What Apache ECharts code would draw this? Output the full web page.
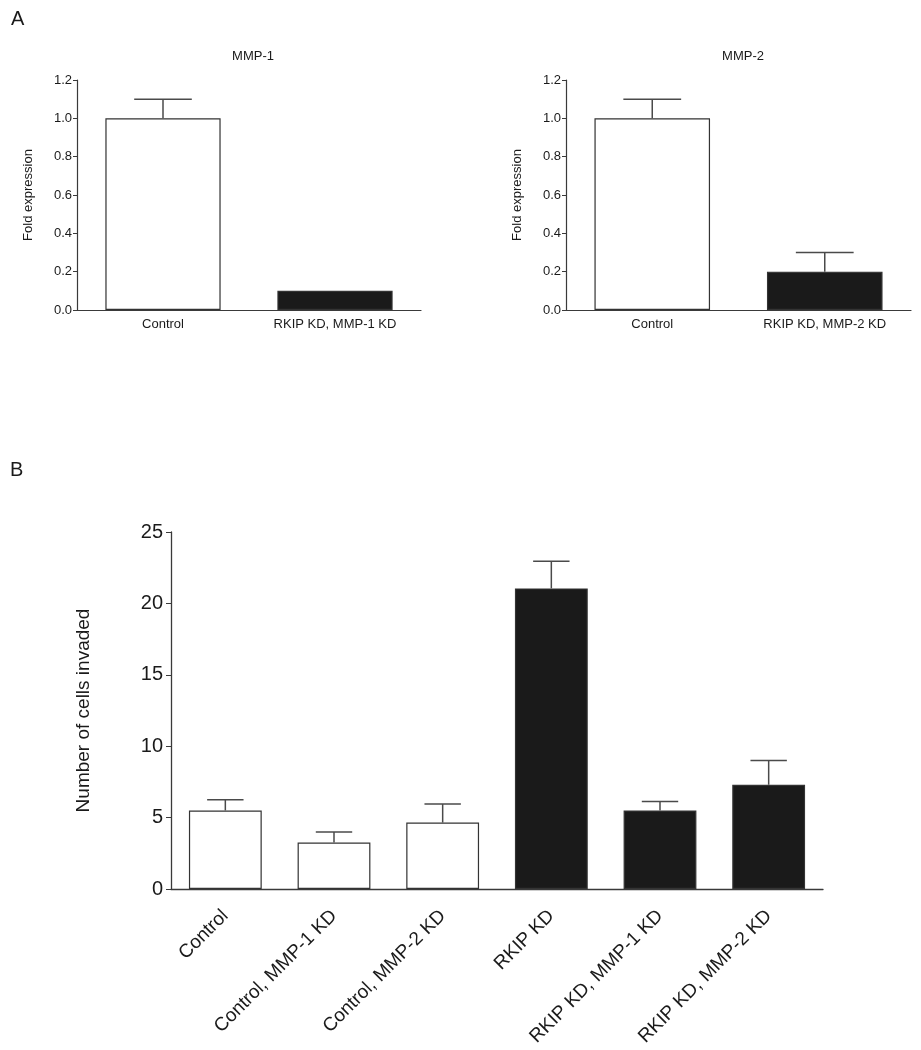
<!DOCTYPE html>
<html>
<head>
<meta charset="utf-8">
<script src="https://cdn.jsdelivr.net/npm/echarts@6/dist/echarts.min.js"></script>
<style>
html,body{margin:0;padding:0;background:#fff;}
#c{width:921px;height:1050px;}
</style>
</head>
<body>
<div id="c"></div>
<script>
// ---- Data ----
const mmp1Categories = ['Control', 'RKIP KD, MMP-1 KD'];
const mmp1Means = [1.0, 0.1];
const mmp1Errors = [0.1, 0];

const mmp2Categories = ['Control', 'RKIP KD, MMP-2 KD'];
const mmp2Means = [1.0, 0.2];
const mmp2Errors = [0.1, 0.1];

const invasionCategories = ['Control', 'Control, MMP-1 KD', 'Control, MMP-2 KD', 'RKIP KD', 'RKIP KD, MMP-1 KD', 'RKIP KD, MMP-2 KD'];
const invasionMeans = [5.5, 3.25, 4.65, 21.05, 5.5, 7.3];
const invasionErrors = [0.75, 0.75, 1.3, 1.9, 0.62, 1.7];
const invasionIsRkip = [false, false, false, true, true, true];

const foldTicks = [0, 0.2, 0.4, 0.6, 0.8, 1.0, 1.2];
const cellTicks = [0, 5, 10, 15, 20, 25];

// ---- Styles ----
const FONT = 'Liberation Sans, Arial, sans-serif';
const AXIS_COLOR = '#3a3a3a';
const TEXT_COLOR = '#1a1a1a';
const WHITE = '#ffffff';
const BLACK = '#1a1a1a';
const BAR_W_FRAC = 0.67;

function barData(means, blackFlags) {
  return means.map((v, i) => ({
    value: v,
    itemStyle: { color: blackFlags[i] ? BLACK : WHITE, borderColor: '#333', borderWidth: 1.2 }
  }));
}
function errData(means, errs) {
  const out = [];
  means.forEach((m, i) => { if (errs[i] > 0) out.push([i, m, m + errs[i]]); });
  return out;
}
function errRender(params, api) {
  const x = api.value(0), m = api.value(1), t = api.value(2);
  const p0 = api.coord([x, m]);
  const p1 = api.coord([x, t]);
  const band = api.size([1, 0])[0];
  const half = band * BAR_W_FRAC / 4;
  const st = { stroke: '#4a4a4a', lineWidth: 1.5 };
  return {
    type: 'group',
    children: [
      { type: 'line', shape: { x1: p0[0], y1: p0[1], x2: p1[0], y2: p1[1] }, style: st },
      { type: 'line', shape: { x1: p1[0] - half, y1: p1[1], x2: p1[0] + half, y2: p1[1] }, style: st }
    ]
  };
}

function xAxisA(idx, cats) {
  return {
    type: 'category', gridIndex: idx, data: cats,
    axisLine: { lineStyle: { color: AXIS_COLOR, width: 1.2 } },
    axisTick: { show: false },
    axisLabel: { color: TEXT_COLOR, fontFamily: FONT, fontSize: 13, margin: 8 }
  };
}
function yAxisA(idx) {
  return {
    type: 'value', gridIndex: idx, min: 0, max: 1.2, interval: 0.2,
    name: 'Fold expression', nameLocation: 'middle', nameGap: 42, nameRotate: 90,
    nameTextStyle: { color: TEXT_COLOR, fontFamily: FONT, fontSize: 13 },
    axisLine: { show: true, lineStyle: { color: AXIS_COLOR, width: 1.2 } },
    axisTick: { show: true, length: 4, lineStyle: { color: AXIS_COLOR } },
    splitLine: { show: false },
    axisLabel: { color: TEXT_COLOR, fontFamily: FONT, fontSize: 13, margin: 5,
      formatter: v => foldTicks.find(t => Math.abs(t - v) < 1e-9).toFixed(1) }
  };
}

const option = {
  backgroundColor: '#fff',
  animation: false,
  title: [
    { text: 'A', left: 6, top: 4, textStyle: { fontFamily: FONT, fontSize: 20, fontWeight: 'normal', color: TEXT_COLOR } },
    { text: 'MMP-1', left: 248, top: 45, textAlign: 'center', textStyle: { fontFamily: FONT, fontSize: 13, fontWeight: 'normal', color: TEXT_COLOR } },
    { text: 'MMP-2', left: 738, top: 45, textAlign: 'center', textStyle: { fontFamily: FONT, fontSize: 13, fontWeight: 'normal', color: TEXT_COLOR } },
    { text: 'B', left: 5, top: 455, textStyle: { fontFamily: FONT, fontSize: 20, fontWeight: 'normal', color: TEXT_COLOR } }
  ],
  grid: [
    { left: 77, top: 80, width: 344, height: 230 },
    { left: 566, top: 80, width: 345, height: 230 },
    { left: 171, top: 532, width: 652, height: 357 }
  ],
  xAxis: [
    xAxisA(0, mmp1Categories),
    xAxisA(1, mmp2Categories),
    {
      type: 'category', gridIndex: 2, data: invasionCategories,
      axisLine: { lineStyle: { color: AXIS_COLOR, width: 1.3 } },
      axisTick: { show: false },
      axisLabel: { color: TEXT_COLOR, fontFamily: FONT, fontSize: 19, rotate: 45, margin: 24, interval: 0 }
    }
  ],
  yAxis: [
    yAxisA(0),
    yAxisA(1),
    {
      type: 'value', gridIndex: 2, min: 0, max: 25, interval: 5,
      name: 'Number of cells invaded', nameLocation: 'middle', nameGap: 78, nameRotate: 90,
      nameTextStyle: { color: TEXT_COLOR, fontFamily: FONT, fontSize: 19 },
      axisLine: { show: true, lineStyle: { color: AXIS_COLOR, width: 1.3 } },
      axisTick: { show: true, length: 5, lineStyle: { color: AXIS_COLOR } },
      splitLine: { show: false },
      axisLabel: { color: TEXT_COLOR, fontFamily: FONT, fontSize: 20, margin: 8,
        formatter: v => String(cellTicks.find(t => t === v)) }
    }
  ],
  series: [
    { type: 'bar', xAxisIndex: 0, yAxisIndex: 0, barWidth: '67%', data: barData(mmp1Means, [false, true]) },
    { type: 'custom', xAxisIndex: 0, yAxisIndex: 0, renderItem: errRender, data: errData(mmp1Means, mmp1Errors), z: 3 },
    { type: 'bar', xAxisIndex: 1, yAxisIndex: 1, barWidth: '67%', data: barData(mmp2Means, [false, true]) },
    { type: 'custom', xAxisIndex: 1, yAxisIndex: 1, renderItem: errRender, data: errData(mmp2Means, mmp2Errors), z: 3 },
    { type: 'bar', xAxisIndex: 2, yAxisIndex: 2, barWidth: '67%', data: barData(invasionMeans, invasionIsRkip) },
    { type: 'custom', xAxisIndex: 2, yAxisIndex: 2, renderItem: errRender, data: errData(invasionMeans, invasionErrors), z: 3 }
  ]
};

const chart = echarts.init(document.getElementById('c'), null, { renderer: 'canvas' });
chart.setOption(option);
</script>
</body>
</html>
